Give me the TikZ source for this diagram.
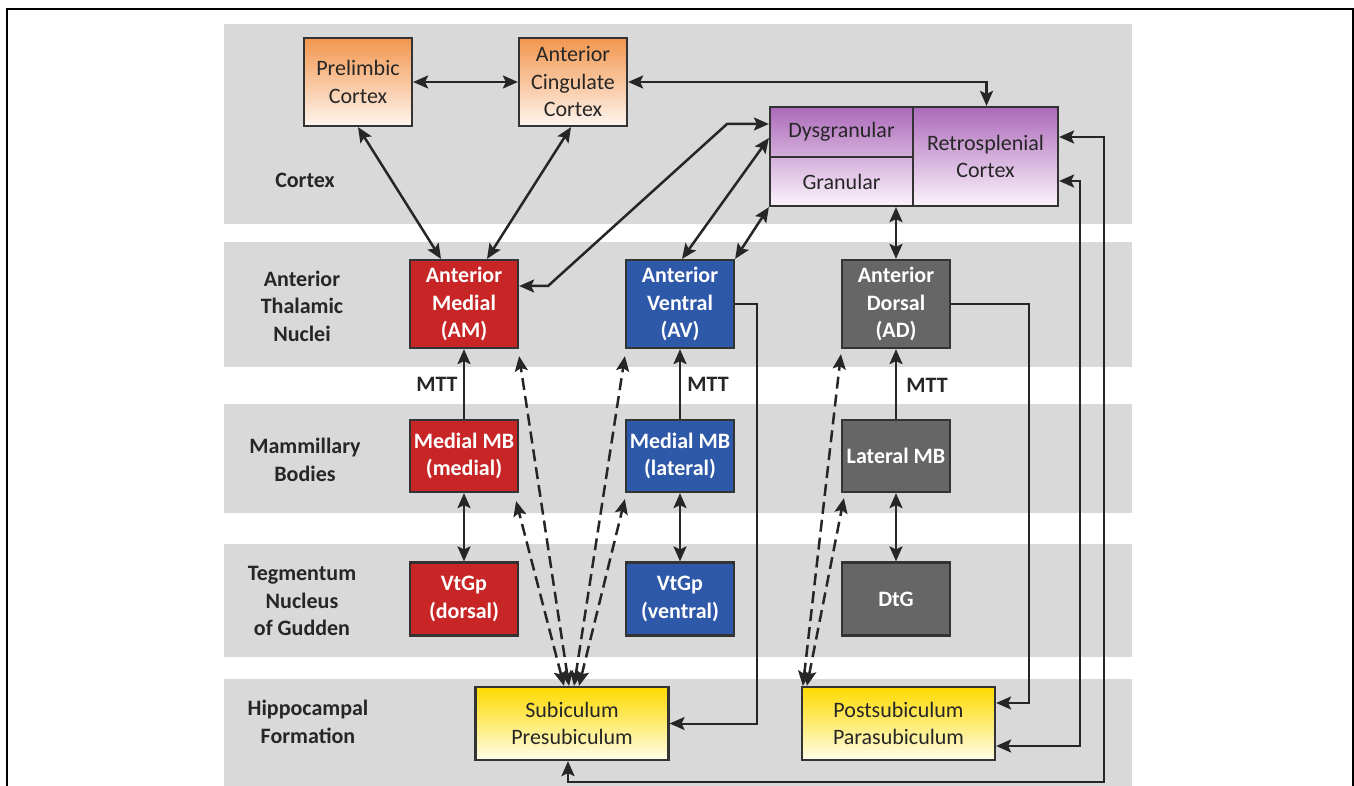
\documentclass[tikz,border=0pt]{standalone}
\usepackage{fontspec}
\setmainfont{Carlito}
\usetikzlibrary{arrows.meta}
\definecolor{bandc}{RGB}{217,217,217}
\definecolor{redb}{RGB}{200,38,38}
\definecolor{blueb}{RGB}{46,88,168}
\definecolor{grayb}{RGB}{102,102,102}
\definecolor{linec}{RGB}{38,38,38}
\definecolor{bordc}{RGB}{51,51,51}
\definecolor{txtc}{RGB}{38,38,38}
\definecolor{orA}{RGB}{243,150,78}
\definecolor{orB}{RGB}{249,200,160}
\definecolor{orC}{RGB}{254,245,238}
\definecolor{puA}{RGB}{172,105,186}
\definecolor{puB}{RGB}{192,140,204}
\definecolor{puC}{RGB}{252,244,252}
\definecolor{yeA}{RGB}{255,218,0}
\definecolor{yeB}{RGB}{255,234,80}
\definecolor{yeC}{RGB}{255,253,232}
\newcommand\fsz{\fontsize{22}{27.5}\selectfont}
\tikzset{
  bandr/.style={fill=bandc, draw=none},
  basebox/.style={draw=bordc, line width=2.2pt, inner sep=1pt, align=center, font=\fsz},
  colbox/.style={basebox, minimum width=108pt, text=white, font=\fsz\bfseries},
  redbox/.style={colbox, fill=redb},
  bluebox/.style={colbox, fill=blueb},
  graybox/.style={colbox, fill=grayb},
  orbox/.style={basebox, minimum width=108pt, minimum height=88pt, text=txtc, top color=orA, middle color=orB, bottom color=orC},
  yebox/.style={basebox, minimum width=193pt, minimum height=73pt, text=txtc, top color=yeA, middle color=yeB, bottom color=yeC},
  pubox/.style={basebox, text=txtc},
  rowlab/.style={align=center, font=\fsz\bfseries, text=txtc, inner sep=0pt},
  mtt/.style={font=\fsz\bfseries, text=txtc, inner sep=0pt},
  arr/.style={-{Stealth[length=15pt,width=13pt,inset=3pt]}, line width=2.5pt, draw=linec},
  darr/.style={{Stealth[length=15pt,width=13pt,inset=3pt]}-{Stealth[length=15pt,width=13pt,inset=3pt]}, line width=2.5pt, draw=linec},
  dsh/.style={dash pattern=on 12pt off 6pt}
}
\begin{document}
\begin{tikzpicture}[x=1pt,y=-1pt]
\useasboundingbox (0,0) rectangle (1354,786);
% frame
\draw[line width=1.5pt, black] (7,786) -- (7,9) -- (1353,9) -- (1353,786);
% bands
\fill[bandr] (224,24) rectangle (1132,224);
\fill[bandr] (224,242) rectangle (1132,367);
\fill[bandr] (224,404) rectangle (1132,513);
\fill[bandr] (224,544) rectangle (1132,657);
\fill[bandr] (224,679) rectangle (1132,786);
% row labels
\node[rowlab] (lcx) at (305,180) {Cortex};
\node[rowlab] (latn) at (302,306) {Anterior\\Thalamic\\Nuclei};
\node[rowlab] (lmb) at (305,460) {Mammillary\\Bodies};
\node[rowlab] (ltg) at (302,601) {Tegmentum\\Nucleus\\of Gudden};
\node[rowlab] (lhf) at (308,722) {Hippocampal\\Formation};
% cortex
\node[orbox] (pre) at (358,82) {Prelimbic\\Cortex};
\node[orbox] (acc) at (573,82) {Anterior\\Cingulate\\Cortex};
\shade[top color=puA, middle color=puB, bottom color=puC] (770,107) rectangle (1058,206);
\node[pubox, minimum width=143pt, minimum height=50pt] (dys) at (841.5,132) {Dysgranular};
\node[pubox, minimum width=143pt, minimum height=49pt] (gran) at (841.5,181.5) {Granular};
\node[pubox, minimum width=145pt, minimum height=99pt] (rsc) at (985.5,156.5) {Retrosplenial\\Cortex};
% thalamic
\node[redbox, minimum height=88pt] (am) at (464,304) {Anterior\\Medial\\(AM)};
\node[bluebox, minimum height=88pt] (av) at (680,304) {Anterior\\Ventral\\(AV)};
\node[graybox, minimum height=88pt] (ad) at (896,304) {Anterior\\Dorsal\\(AD)};
% mammillary
\node[redbox, minimum height=72pt] (mbm) at (464,456) {Medial MB\\(medial)};
\node[bluebox, minimum height=72pt] (mbl) at (680,456) {Medial MB\\(lateral)};
\node[graybox, minimum height=72pt] (lmbx) at (896,456) {Lateral MB};
% tegmentum
\node[redbox, minimum height=73pt] (vtd) at (464,599) {VtGp\\(dorsal)};
\node[bluebox, minimum height=73pt] (vtv) at (680,599) {VtGp\\(ventral)};
\node[graybox, minimum height=73pt] (dtg) at (896,599) {DtG};
% hippocampal
\node[yebox] (sub) at (572,723.5) {Subiculum\\Presubiculum};
\node[yebox] (post) at (898.5,723.5) {Postsubiculum\\Parasubiculum};
% MTT labels
\node[mtt] (m1) at (437,384) {MTT};
\node[mtt] (m2) at (708,384) {MTT};
\node[mtt] (m3) at (927,385) {MTT};
% coordinates
\coordinate (k1) at (548,286);
\coordinate (k2) at (727,124);
\coordinate (c9) at (757,723.5);
\coordinate (c10) at (1029,703);
\coordinate (c11) at (1104,782);
\coordinate (c12) at (1080,746);
% cortex connectors
\draw[darr] (pre.east) -- (acc.west);
\draw[darr] (acc.east) -| ([xshift=1pt]rsc.north);
\draw[darr] (pre.south) -- ([xshift=-23pt]am.north);
\draw[darr] ([xshift=-2pt]acc.south) -- ([xshift=23pt]am.north);
\draw[darr] ([yshift=18pt]am.east) -- (k1) -- (k2) -- (k2 -| dys.west);
\draw[darr] ([xshift=2pt]av.north) -- ([yshift=-6pt]dys.west);
\draw[darr] (av.north east) -- (gran.south west);
\draw[darr] (ad.north |- gran.south) -- (ad.north);
% MTT arrows
\draw[arr] (mbm.north) -- (am.south);
\draw[arr] (mbl.north) -- (av.south);
\draw[arr] (lmbx.north) -- (ad.south);
% MB - tegmentum
\draw[darr] (mbm.south) -- (vtd.north);
\draw[darr] (mbl.south) -- (vtv.north);
\draw[darr] (lmbx.south) -- (dtg.north);
% thalamus to hippocampus
\draw[arr, line width=2pt] (av.east) -| (c9) -- (sub.east);
\draw[arr, line width=2pt] (ad.east) -| (c10) -- (c10 -| post.east);
% retrosplenial loops
\draw[darr] ([xshift=-4pt]sub.south) |- (c11) |- ([yshift=19.5pt]rsc.east);
\draw[darr] ([yshift=-22.5pt]post.east) -- (c12) |- ([yshift=-24.5pt]rsc.east);
% dashed
\draw[darr, dsh] ([xshift=-8pt]sub.north) -- ([shift={(-3pt,-8pt)}]mbm.south east);
\draw[darr, dsh] ([xshift=-3pt]sub.north) -- ([yshift=-7pt]am.south east);
\draw[darr, dsh] ([xshift=2pt]sub.north) -- ([yshift=-7pt]av.south west);
\draw[darr, dsh] ([xshift=7pt]sub.north) -- ([yshift=-6pt]mbl.south west);
\draw[darr, dsh] ([xshift=2pt]post.north west) -- ([yshift=-5pt]ad.south west);
\draw[darr, dsh] ([xshift=6pt]post.north west) -- ([shift={(3pt,-5pt)}]lmbx.south west);
\end{tikzpicture}
\end{document}
